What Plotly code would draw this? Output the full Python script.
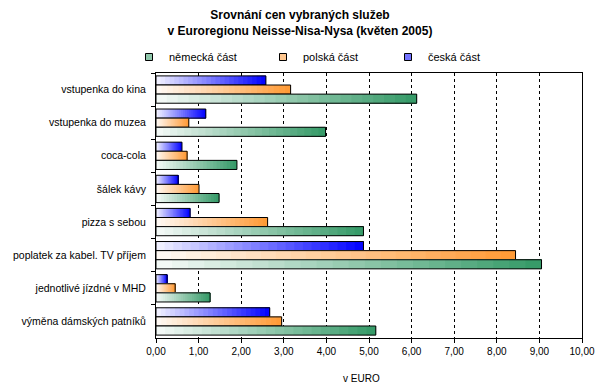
import plotly.graph_objects as go

categories = [
    "vstupenka do kina",
    "vstupenka do muzea",
    "coca-cola",
    "šálek kávy",
    "pizza s sebou",
    "poplatek za kabel. TV příjem",
    "jednotlivé jízdné v MHD",
    "výměna dámských patníků",
]
ceska = [2.58, 1.17, 0.61, 0.52, 0.80, 4.87, 0.26, 2.67]
polska = [3.16, 0.77, 0.73, 1.01, 2.62, 8.44, 0.45, 2.95]
nemecka = [6.12, 3.98, 1.90, 1.48, 4.87, 9.05, 1.27, 5.16]
x_ticks = [0, 1, 2, 3, 4, 5, 6, 7, 8, 9, 10]

FONT = "Liberation Sans, Arial, sans-serif"

series = [
    # name, values, end colour (rgb), offset, legend id, legend x(px)
    ("česká část", ceska, (0, 0, 255), -0.4125, "legend3", 388),
    ("polská část", polska, (255, 153, 51), -0.1375, "legend2", 263),
    ("německá část", nemecka, (51, 153, 102), 0.1375, "legend", 129),
]
BAR_W = 0.275
N = 24

fig = go.Figure()

def mix(c, t):
    return "rgb(%d,%d,%d)" % tuple(round(255 + (ci - 255) * t) for ci in c)

for name, vals, col, off, leg, lx in series:
    # overlapping gradient layers: each layer spans from its start to the bar end
    for k in range(N):
        t = 0.04 + 0.96 * (k + 0.5) / N
        fig.add_trace(go.Bar(
            y=categories, x=[v * (N - k) / N for v in vals], base=[v * k / N for v in vals],
            orientation="h", width=BAR_W, offset=off,
            marker=dict(color=mix(col, t), line=dict(width=0)),
            showlegend=False, hoverinfo="skip",
        ))
    fig.add_trace(go.Bar(
        y=categories, x=vals, orientation="h", width=BAR_W, offset=off,
        marker=dict(color="rgba(0,0,0,0)", line=dict(color="black", width=1)),
        showlegend=False, name=name,
    ))

for name, vals, col, off, leg, lx in series:
    fig.add_trace(go.Scatter(
        x=[None], y=[None], mode="markers", name=name, legend=leg,
        marker=dict(symbol="square", size=7, color=mix(col, 0.55),
                    line=dict(color="black", width=1)),
        showlegend=True,
    ))

legend_common = dict(
    orientation="h", xref="container", yref="container",
    yanchor="middle", xanchor="left", y=1 - 57 / 392,
    bgcolor="rgba(0,0,0,0)", font=dict(family=FONT, size=11, color="black"),
    itemwidth=30,
)
layout_legends = {}
for name, vals, col, off, leg, lx in series:
    layout_legends[leg] = dict(legend_common, x=lx / 604)

fig.update_layout(
    width=604, height=392,
    margin=dict(l=156, r=22, t=73, b=54, autoexpand=False),
    paper_bgcolor="white", plot_bgcolor="white",
    barmode="overlay",
    separators=", ",
    font=dict(family=FONT, size=10, color="black"),
    title=dict(
        text="<b>Srovnání cen vybraných služeb<br>v Euroregionu Neisse-Nisa-Nysa (květen 2005)</b>",
        xref="container", x=300 / 604, xanchor="center",
        yref="container", y=1 - 19 / 392, yanchor="top",
        font=dict(family=FONT, size=12, color="black"),
    ),
    xaxis=dict(
        range=[0, 10], tickvals=x_ticks, tickformat=".2f",
        showgrid=True, gridcolor="black", gridwidth=1, griddash="3px,3px",
        showline=True, linecolor="black", linewidth=1, mirror=True,
        ticks="outside", ticklen=4, tickcolor="black", zeroline=False,
        tickfont=dict(size=10), automargin=False,
    ),
    yaxis=dict(
        autorange="reversed", type="category",
        showgrid=False, showline=True, linecolor="black", linewidth=1, mirror=True,
        ticks="outside", ticklen=4, tickcolor="black", tickson="boundaries",
        tickfont=dict(size=10.5), ticklabelstandoff=7, automargin=False,
    ),
    annotations=[dict(
        text="v EURO", xref="paper", yref="paper",
        x=(361 - 156) / 426, y=(338 - 378) / 265, xanchor="center", yanchor="middle",
        showarrow=False, font=dict(family=FONT, size=10, color="black"),
    )],
    **layout_legends,
)

fig.write_html(
    "out.html",
    config={"displayModeBar": False},
    post_script="document.body.style.margin='0';document.body.style.overflow='hidden';",
)
